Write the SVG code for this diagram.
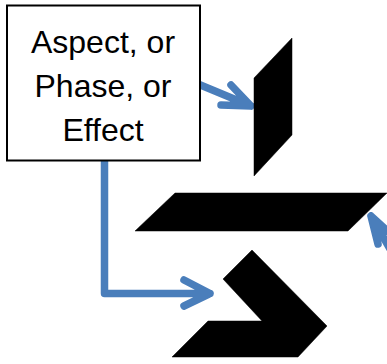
<svg xmlns="http://www.w3.org/2000/svg" width="387" height="364" viewBox="0 0 387 364">
<style>
.conn{fill:none;stroke:#4A7EBB;stroke-width:7.5;stroke-linecap:round;stroke-linejoin:round}
.shape{fill:#000;stroke:#000;stroke-width:0.5}
.box{fill:#fff;stroke:#000;stroke-width:2}
.lbl{font-family:"Liberation Sans",Arial,sans-serif;font-size:32px;fill:#000;text-anchor:middle}
</style>
<rect width="387" height="364" fill="#fff"/>
<g id="connectors">
<path class="conn" d="M198,84 L251,106 M231,85 L251,106 L221,105"/>
<path class="conn" d="M104.5,158 V293.5 H210 M184,280 L210,293.5 L184,306"/>
<path class="conn" d="M401,268 L371,216 M393,236 L371,216 L378,244"/>
</g>
<g id="node-aspect">
<rect class="box" x="7" y="5.5" width="193" height="155"/>
<text class="lbl" x="103" y="52.5">Aspect, or</text>
<text class="lbl" x="103" y="96.7">Phase, or</text>
<text class="lbl" x="103" y="140.7">Effect</text>
</g>
<g id="node-vertical">
<polygon class="shape" points="254,78 292,38 292,135 254,176"/>
</g>
<g id="node-horizontal">
<polygon class="shape" points="175,193 387,193 348,231 135,231"/>
</g>
<g id="node-chevron">
<polygon class="shape" points="252,250 327,326 298,357 172,357 208,321 262,321 223,279"/>
</g>
</svg>
